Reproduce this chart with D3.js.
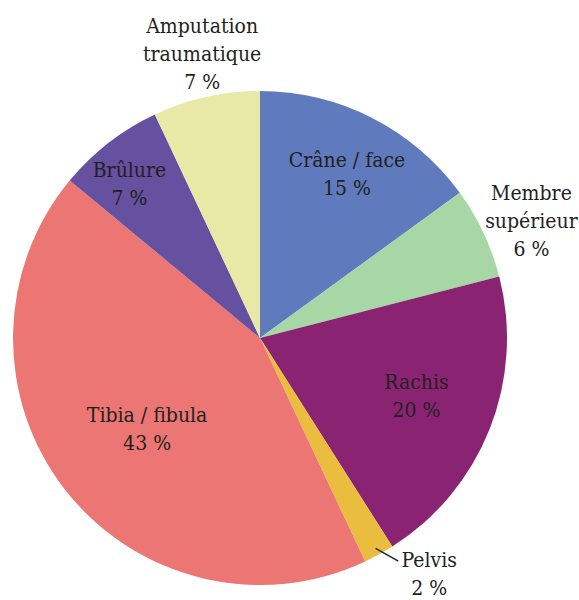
<!DOCTYPE html>
<html><head><meta charset="utf-8">
<script src="https://cdn.jsdelivr.net/npm/d3@7/dist/d3.min.js"></script>
<style>body{margin:0;background:#fff}svg{display:block}
text.lbl{font-family:"DejaVu Serif Condensed","DejaVu Serif",serif;font-stretch:condensed;font-size:21px;fill:#231f20}</style>
</head><body>
<svg id="chart" width="579" height="600"></svg>
<script>
const categories = ["Crâne / face", "Membre supérieur", "Rachis", "Pelvis", "Tibia / fibula", "Brûlure", "Amputation traumatique"];
const values = [15, 6, 20, 2, 43, 7, 7];
const labelLines = [["Crâne / face"], ["Membre", "supérieur"], ["Rachis"], ["Pelvis"], ["Tibia / fibula"], ["Brûlure"], ["Amputation", "traumatique"]];
const colors = ["#5f7abd", "#a6d7a4", "#8a2472", "#ebbd3f", "#ec7673", "#6650a0", "#e8e9a6"];

// label layout (radius, angle shift in degrees)
const labelRadius = [179.5, 293, 169.7, 296.5, 149.6, 196.6, 283];
const labelShift = [2.0, 3.1, 1.1, -6.0, -3.2, -3.8, 0.8];

const cx = 260, cy = 338, R = 247, lineH = 28;
const svg = d3.select("#chart");
const g = svg.append("g").attr("transform", `translate(${cx},${cy})`);
const pie = d3.pie().sort(null).value(d => d)(values);
const arc = d3.arc().innerRadius(0).outerRadius(R);

g.selectAll("path").data(pie).join("path")
  .attr("d", arc).attr("fill", (d, i) => colors[i]);

const polar = (a, r) => [r * Math.sin(a), -r * Math.cos(a)];
const deg = Math.PI / 180;

pie.forEach((d, i) => {
  const mid = (d.startAngle + d.endAngle) / 2;
  const [x, y] = polar(mid + labelShift[i] * deg, labelRadius[i]);
  const lines = labelLines[i].concat([values[i] + " %"]);
  const t = g.append("text").attr("class", "lbl").attr("text-anchor", "middle");
  lines.forEach((l, k) => {
    t.append("tspan").attr("x", x).attr("y", y - (lines.length - 1) * lineH / 2 + k * lineH).text(l);
  });
  if (categories[i] === "Pelvis") {
    const p1 = polar(mid, 240), p2 = polar(mid - 3 * deg, 262.5);
    g.append("line").attr("x1", p1[0]).attr("y1", p1[1]).attr("x2", p2[0]).attr("y2", p2[1])
      .attr("stroke", "#231f20").attr("stroke-width", 1.3);
  }
});
</script>
</body></html>
